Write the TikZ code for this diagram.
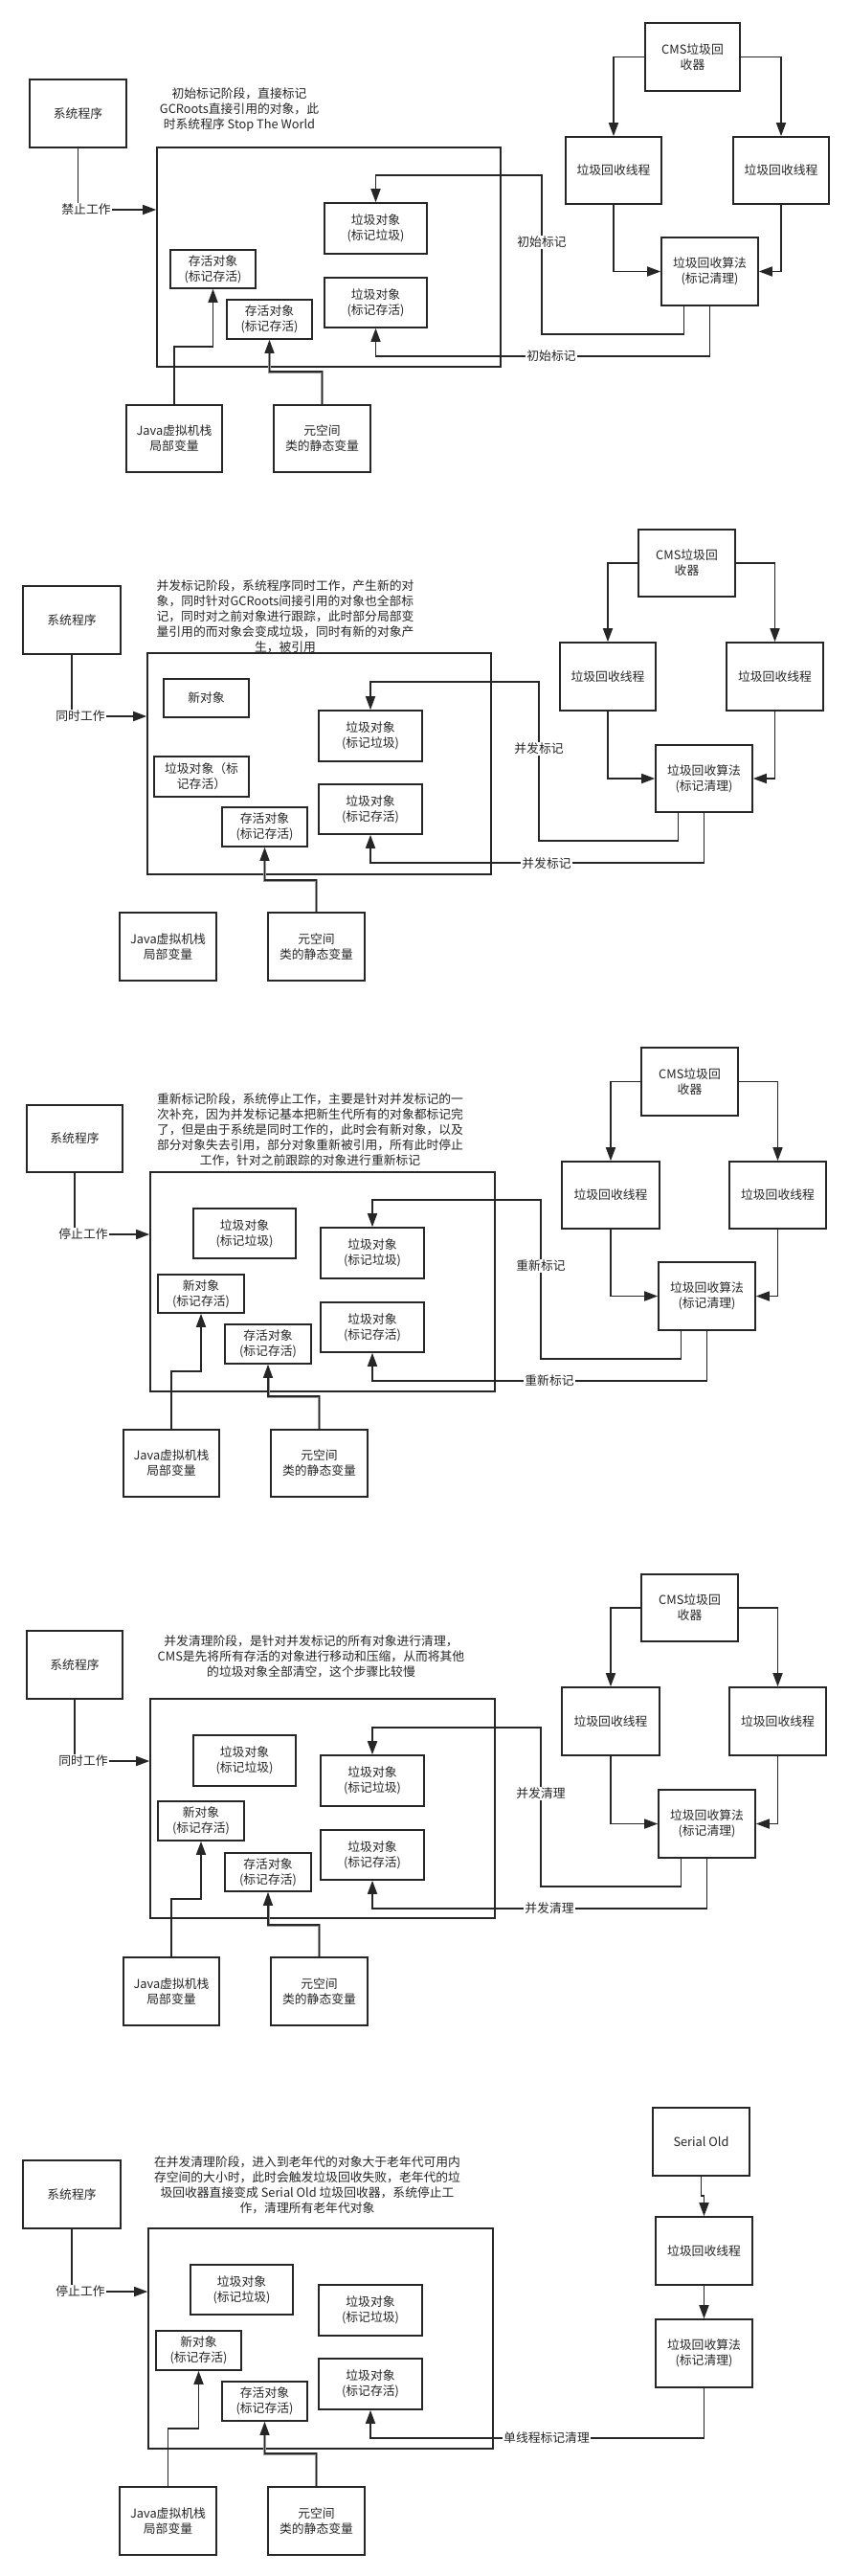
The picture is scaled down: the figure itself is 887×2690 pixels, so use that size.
\documentclass[tikz,border=0pt]{standalone}
\usepackage{fontspec}
\setmainfont{Noto Sans CJK SC}
\usetikzlibrary{arrows.meta}
\newcommand\fs{\fontsize{12.8}{16}\selectfont}
\newcommand\bx[6]{\node[box,minimum width={(#4)-(#2)},minimum height={(#5)-(#3)}] (#1) at ({((#2)+(#4))/2},{((#3)+(#5))/2}) {#6};}
\tikzset{
 box/.style={draw=black!85, line width=1.6pt, inner sep=1pt, align=center, font=\fs, text=black!85},
 lbl/.style={fill=white, inner sep=1pt, font=\fs, text=black!85},
 captxt/.style={align=center, font=\fs, inner sep=0pt, text=black!85},
 arr/.style={draw=black!85, line width=1.6pt, -{Triangle[length=14pt,width=10pt]}},
 gry/.style={line width=1.1pt, preaction={draw=black!40, line width=3pt, -, shorten >=10pt}},
}
\begin{document}
\begin{tikzpicture}[x=1pt,y=-1pt]
\fill[white] (0,0) rectangle (887,2690);
\useasboundingbox (0,0) rectangle (887,2690);
% ================= Section 1
\bx{s1sys}{31}{83}{132}{154}{系统程序}
\node[captxt] (s1cap) at (250,115) {初始标记阶段，直接标记\\GCRoots直接引用的对象，此\\时系统程序 Stop The World};
\bx{s1ctr}{164}{154}{523}{383}{}
\bx{s1cms}{674}{24}{773}{95}{CMS垃圾回\\收器}
\bx{s1t1}{591}{143}{691}{213}{垃圾回收线程}
\bx{s1t2}{766}{143}{866}{213}{垃圾回收线程}
\bx{s1alg}{691}{248}{792}{319}{垃圾回收算法\\(标记清理)}
\bx{s1g1}{339}{212}{446}{265}{垃圾对象\\(标记垃圾)}
\bx{s1g2}{339}{290}{446}{342}{垃圾对象\\(标记存活)}
\bx{s1a1}{178}{261}{267}{301}{存活对象\\(标记存活)}
\bx{s1a2}{237}{313}{326}{354}{存活对象\\(标记存活)}
\bx{s1jv}{132}{423}{232}{493}{Java虚拟机栈\\局部变量}
\bx{s1ms}{286}{423}{387}{493}{元空间\\类的静态变量}
\coordinate (s1k) at (0,219);
\draw[arr] (s1sys.south) |- (s1ctr.west |- s1k);
\draw[arr] (s1cms.west) -| (s1t1.north);
\draw[arr] (s1cms.east) -| (s1t2.north);
\draw[arr] (s1t1.south) |- (s1alg.west);
\draw[arr] (s1t2.south) |- (s1alg.east);
\coordinate (s1p) at (566,349); \coordinate (s1q) at (566,183);
\draw[arr] ([xshift=-27pt]s1alg.south) |- (s1p) -- (s1q) -| (s1g1.north);
\coordinate (s1r) at (0,372);
\draw[arr] (s1alg.south) -- (s1alg.south |- s1r) -| (s1g2.south);
\coordinate (s1u) at (0,362);
\draw[arr] (s1jv.north) -- (s1jv.north |- s1u) -| (s1a1.south);
\coordinate (s1v) at (0,388);
\draw[arr,gry] (s1ms.north) -- (s1ms.north |- s1v) -| (s1a2.south);
\node[lbl] (s1l0) at (90,219) {禁止工作};
\node[lbl] (s1l1) at (566,253) {初始标记};
\node[lbl] (s1l2) at (576,372) {初始标记};
% ================= Section 2
\bx{s2sys}{24}{612}{126}{683}{系统程序}
\node[captxt] (s2cap) at (298,643.5) {并发标记阶段，系统程序同时工作，产生新的对\\象，同时针对GCRoots间接引用的对象也全部标\\记，同时对之前对象进行跟踪，此时部分局部变\\量引用的而对象会变成垃圾，同时有新的对象产\\生，被引用};
\bx{s2ctr}{154}{682}{513}{913}{}
\bx{s2cms}{667}{553}{768}{623}{CMS垃圾回\\收器}
\bx{s2t1}{585}{671}{685}{742}{垃圾回收线程}
\bx{s2t2}{759}{671}{860}{742}{垃圾回收线程}
\bx{s2alg}{685}{778}{786}{848}{垃圾回收算法\\(标记清理)}
\bx{s2new}{171}{709}{260}{749}{新对象}
\bx{s2gs}{161}{790}{260}{832}{垃圾对象（标\\记存活）}
\bx{s2a}{232}{843}{321}{884}{存活对象\\(标记存活)}
\bx{s2g1}{333}{742}{441}{795}{垃圾对象\\(标记垃圾)}
\bx{s2g2}{333}{819}{441}{871}{垃圾对象\\(标记存活)}
\bx{s2jv}{125}{953}{226}{1024}{Java虚拟机栈\\局部变量}
\bx{s2ms}{280}{953}{381}{1024}{元空间\\类的静态变量}
\coordinate (s2k) at (0,748);
\draw[arr] (s2sys.south) |- (s2ctr.west |- s2k);
\draw[arr] (s2cms.west) -| (s2t1.north);
\draw[arr] (s2cms.east) -| (s2t2.north);
\draw[arr] (s2t1.south) |- (s2alg.west);
\draw[arr] (s2t2.south) |- (s2alg.east);
\coordinate (s2p) at (563,878); \coordinate (s2q) at (563,712);
\draw[arr] ([xshift=-27pt]s2alg.south) |- (s2p) -- (s2q) -| (s2g1.north);
\coordinate (s2r) at (0,901);
\draw[arr] (s2alg.south) -- (s2alg.south |- s2r) -| (s2g2.south);
\coordinate (s2v) at (0,919);
\draw[arr,gry] (s2ms.north) -- (s2ms.north |- s2v) -| (s2a.south);
\node[lbl] (s2l0) at (84,748) {同时工作};
\node[lbl] (s2l1) at (563,782) {并发标记};
\node[lbl] (s2l2) at (571,902) {并发标记};
% ================= Section 3
\bx{s3sys}{28}{1154}{128}{1224}{系统程序}
\node[captxt] (s3cap) at (324,1180) {重新标记阶段，系统停止工作，主要是针对并发标记的一\\次补充，因为并发标记基本把新生代所有的对象都标记完\\了，但是由于系统是同时工作的，此时会有新对象，以及\\部分对象失去引用，部分对象重新被引用，所有此时停止\\工作，针对之前跟踪的对象进行重新标记};
\bx{s3ctr}{157}{1224}{517}{1453}{}
\bx{s3cms}{670}{1094}{771}{1165}{CMS垃圾回\\收器}
\bx{s3t1}{587}{1213}{689}{1283}{垃圾回收线程}
\bx{s3t2}{762}{1213}{863}{1283}{垃圾回收线程}
\bx{s3alg}{688}{1318}{789}{1389}{垃圾回收算法\\(标记清理)}
\bx{s3gl}{202}{1262}{309}{1314}{垃圾对象\\(标记垃圾)}
\bx{s3new}{165}{1331}{255}{1371}{新对象\\(标记存活)}
\bx{s3a}{235}{1383}{325}{1424}{存活对象\\(标记存活)}
\bx{s3g1}{335}{1282}{443}{1335}{垃圾对象\\(标记垃圾)}
\bx{s3g2}{335}{1360}{443}{1412}{垃圾对象\\(标记存活)}
\bx{s3jv}{129}{1493}{229}{1563}{Java虚拟机栈\\局部变量}
\bx{s3ms}{283}{1493}{384}{1563}{元空间\\类的静态变量}
\coordinate (s3k) at (0,1289);
\draw[arr] (s3sys.south) |- (s3ctr.west |- s3k);
\draw[arr] (s3cms.west) -| (s3t1.north);
\draw[arr] (s3cms.east) -| (s3t2.north);
\draw[arr] (s3t1.south) |- (s3alg.west);
\draw[arr] (s3t2.south) |- (s3alg.east);
\coordinate (s3p) at (565,1419); \coordinate (s3q) at (565,1253);
\draw[arr] ([xshift=-27pt]s3alg.south) |- (s3p) -- (s3q) -| (s3g1.north);
\coordinate (s3r) at (0,1442);
\draw[arr] (s3alg.south) -- (s3alg.south |- s3r) -| (s3g2.south);
\coordinate (s3u) at (0,1432);
\draw[arr] (s3jv.north) -- (s3jv.north |- s3u) -| (s3new.south);
\coordinate (s3v) at (0,1458);
\draw[arr,gry] (s3ms.north) -- (s3ms.north |- s3v) -| (s3a.south);
\node[lbl] (s3l0) at (87,1289) {停止工作};
\node[lbl] (s3l1) at (565,1322) {重新标记};
\node[lbl] (s3l2) at (574,1442) {重新标记};
% ================= Section 4
\bx{s4sys}{28}{1703}{128}{1774}{系统程序}
\node[captxt] (s4cap) at (325,1730) {并发清理阶段，是针对并发标记的所有对象进行清理，\\CMS是先将所有存活的对象进行移动和压缩，从而将其他\\的垃圾对象全部清空，这个步骤比较慢};
\bx{s4ctr}{157}{1774}{517}{2003}{}
\bx{s4cms}{670}{1644}{771}{1714}{CMS垃圾回\\收器}
\bx{s4t1}{587}{1762}{689}{1833}{垃圾回收线程}
\bx{s4t2}{762}{1762}{863}{1833}{垃圾回收线程}
\bx{s4alg}{688}{1869}{789}{1940}{垃圾回收算法\\(标记清理)}
\bx{s4gl}{202}{1812}{309}{1865}{垃圾对象\\(标记垃圾)}
\bx{s4new}{165}{1881}{255}{1922}{新对象\\(标记存活)}
\bx{s4a}{235}{1935}{325}{1975}{存活对象\\(标记存活)}
\bx{s4g1}{335}{1833}{443}{1886}{垃圾对象\\(标记垃圾)}
\bx{s4g2}{335}{1911}{443}{1963}{垃圾对象\\(标记存活)}
\bx{s4jv}{129}{2044}{229}{2115}{Java虚拟机栈\\局部变量}
\bx{s4ms}{283}{2044}{384}{2115}{元空间\\类的静态变量}
\coordinate (s4k) at (0,1839);
\draw[arr] (s4sys.south) |- (s4ctr.west |- s4k);
\draw[arr] (s4cms.west) -| (s4t1.north);
\draw[arr] (s4cms.east) -| (s4t2.north);
\draw[arr] (s4t1.south) |- (s4alg.west);
\draw[arr] (s4t2.south) |- (s4alg.east);
\coordinate (s4p) at (565,1970); \coordinate (s4q) at (565,1804);
\draw[arr] ([xshift=-27pt]s4alg.south) |- (s4p) -- (s4q) -| (s4g1.north);
\coordinate (s4r) at (0,1993);
\draw[arr] (s4alg.south) -- (s4alg.south |- s4r) -| (s4g2.south);
\coordinate (s4u) at (0,1983);
\draw[arr] (s4jv.north) -- (s4jv.north |- s4u) -| (s4new.south);
\coordinate (s4v) at (0,2010);
\draw[arr,gry] (s4ms.north) -- (s4ms.north |- s4v) -| (s4a.south);
\node[lbl] (s4l0) at (87,1839) {同时工作};
\node[lbl] (s4l1) at (565,1873) {并发清理};
\node[lbl] (s4l2) at (574,1993) {并发清理};
% ================= Section 5
\bx{s5sys}{24}{2256}{126}{2327}{系统程序}
\node[captxt] (s5cap) at (321,2282) {在并发清理阶段，进入到老年代的对象大于老年代可用内\\存空间的大小时，此时会触发垃圾回收失败，老年代的垃\\圾回收器直接变成 Serial Old 垃圾回收器，系统停止工\\作，清理所有老年代对象};
\bx{s5ctr}{155}{2327}{515}{2557}{}
\bx{s5so}{682}{2201}{783}{2272}{Serial Old}
\bx{s5t}{685}{2315}{786}{2386}{垃圾回收线程}
\bx{s5alg}{685}{2422}{786}{2493}{垃圾回收算法\\(标记清理)}
\bx{s5gl}{199}{2365}{306}{2417}{垃圾对象\\(标记垃圾)}
\bx{s5g1}{333}{2386}{441}{2439}{垃圾对象\\(标记垃圾)}
\bx{s5new}{163}{2434}{252}{2475}{新对象\\(标记存活)}
\bx{s5a}{232}{2487}{321}{2528}{存活对象\\(标记存活)}
\bx{s5g2}{333}{2463}{441}{2516}{垃圾对象\\(标记存活)}
\bx{s5jv}{125}{2597}{226}{2668}{Java虚拟机栈\\局部变量}
\bx{s5ms}{280}{2597}{381}{2668}{元空间\\类的静态变量}
\coordinate (s5k) at (0,2393);
\draw[arr] (s5sys.south) |- (s5ctr.west |- s5k);
\coordinate (s5m) at (0,2293);
\draw[arr] (s5so.south) -- (s5so.south |- s5m) -| (s5t.north);
\draw[arr] (s5t.south) -- (s5alg.north);
\coordinate (s5r) at (0,2546);
\draw[arr] (s5alg.south) -- (s5alg.south |- s5r) -| (s5g2.south);
\coordinate (s5u) at (0,2536);
\draw[arr] (s5jv.north) -- (s5jv.north |- s5u) -| (s5new.south);
\coordinate (s5v) at (0,2562);
\draw[arr,gry] (s5ms.north) -- (s5ms.north |- s5v) -| (s5a.south);
\node[lbl] (s5l0) at (84,2393) {停止工作};
\node[lbl] (s5l2) at (571,2546) {单线程标记清理};
\end{tikzpicture}
\end{document}
